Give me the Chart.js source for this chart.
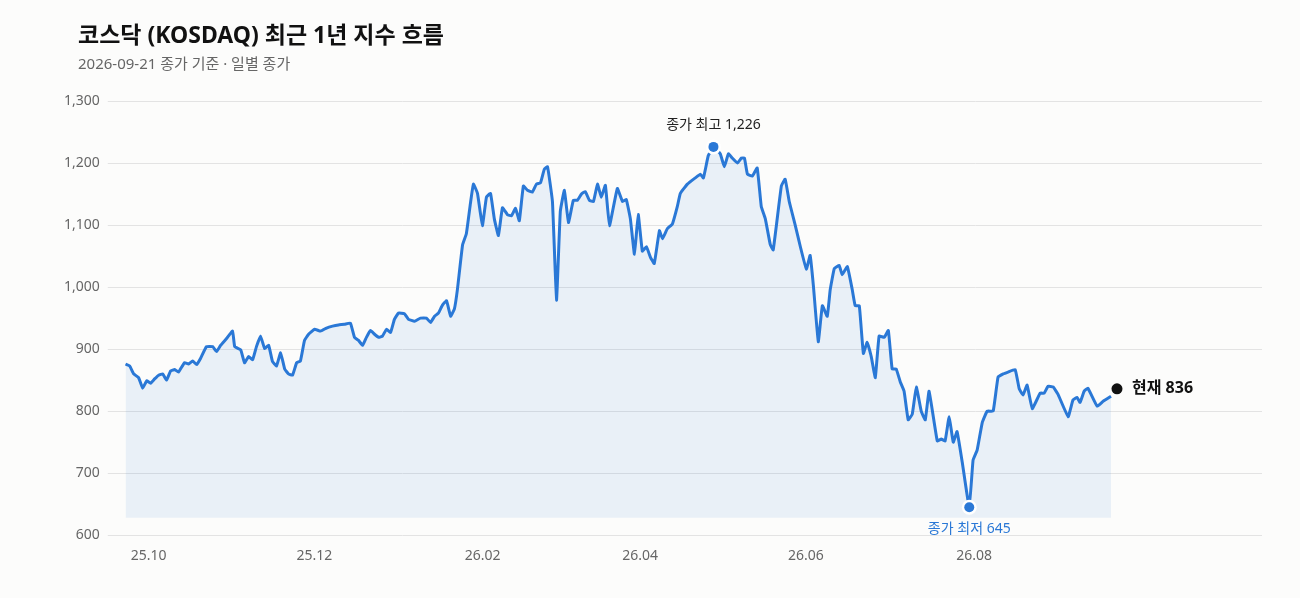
<!DOCTYPE html>
<html><head><meta charset="utf-8">
<script src="https://cdn.jsdelivr.net/npm/chart.js@4/dist/chart.umd.min.js"></script>
<style>
html,body{margin:0;padding:0;background:#fcfcfb;font-family:"Noto Sans","Noto Sans CJK KR",sans-serif;}
#wrap{position:relative;width:1300px;height:598px;}
#t{position:absolute;left:78px;top:16px;font-size:23px;font-weight:700;color:#111;}
#s{position:absolute;left:78px;top:52px;font-size:15px;color:#666;}
#c{position:absolute;left:0;top:0;}
</style></head><body>
<div id="wrap"><canvas id="c" width="1300" height="598"></canvas>
<div id="t">코스닥 (KOSDAQ) 최근 1년 지수 흐름</div>
<div id="s">2026-09-21 종가 기준 · 일별 종가</div></div>
<script>
// days since 2025-10-01
const days=[-8.5,-7,-5.5,-3.7,-2.2,-0.7,0.7,2.2,3.7,5.2,6.6,8.1,9.6,11,13.2,14.7,16.2,17.7,19.1,21.3,23.6,25,26.5,28.7,30.9,31.7,33.9,35.3,36.8,38.3,39.7,41.2,42.7,44.2,45.6,47.1,48.6,50.1,51.5,53,54.5,55.9,57.4,58.9,61.1,63.3,65.5,67.7,69.9,72.1,74.3,75.8,77.3,78.8,80.2,81.7,83.2,84.7,86.1,87.6,89.1,90.5,92,94.2,95.7,97.9,100.1,102.3,103.8,105.3,106.7,108.2,109.7,111.2,112.6,113.7,115.6,117,118.5,119.6,121.1,122.9,124.4,125.9,127.3,128.8,130.3,132.1,133.6,135.1,136.5,138,139.5,141.3,142.8,144.3,145.7,146.9,148.7,150.2,151.6,153.1,154.6,156.4,157.9,159.4,160.8,162.3,163.8,165.3,166.7,168.2,169.7,172.6,174.5,175.9,177.4,178.9,180.3,181.8,183.3,184.8,186.2,188.1,189.2,191,192.9,194.7,195.8,198.4,201.3,203.2,204.3,206.1,208,210.5,212,213.5,214.9,216.8,218.3,219.4,220.5,222.3,224.1,225.6,227.1,228.9,230,233,234.4,235.9,238.1,240,242.2,243.6,244.8,246.6,248.1,249.9,251,252.5,254.3,255.4,257.3,259.1,260.2,261.7,263.2,264.6,266.1,267.6,269,270.9,272.4,273.8,275.3,276.8,278.2,279.7,281.2,282.7,284.5,286,287.4,290.4,291.9,293.3,294.8,296.3,297.7,299.6,302.2,303.6,305.1,307,308.8,311,312.8,314.7,316.5,319.1,320.6,322,323.5,325.4,328.3,329.8,331.2,333.1,334.9,338.6,340.4,341.9,343,344.5,345.9,349.3,351.5,354.4];
const closes=[876,873,860,854,837,849,845,852,858,860,850,865,867,863,878,876,881,875,885,904,904,896,906,917,929,904,899,878,888,883,904,921,901,906,880,873,894,868,860,858,878,881,914,924,932,929,934,937,939,940,942,919,914,906,919,930,924,919,921,932,927,948,958,957,948,945,950,950,943,953,958,971,978,953,965,996,1068,1086,1135,1166,1151,1099,1145,1151,1110,1083,1128,1117,1115,1127,1107,1163,1156,1153,1166,1168,1190,1194,1138,979,1122,1156,1104,1140,1140,1150,1154,1140,1138,1166,1145,1164,1099,1159,1138,1141,1110,1053,1117,1058,1065,1048,1038,1091,1078,1094,1102,1130,1151,1166,1176,1182,1176,1212,1226,1215,1194,1215,1208,1200,1208,1208,1182,1179,1192,1130,1110,1069,1060,1163,1174,1138,1100,1065,1029,1051,1002,912,970,953,996,1030,1035,1020,1033,996,970,970,893,911,888,854,921,919,930,868,868,847,832,786,795,839,800,786,832,752,755,752,791,750,767,718,645,721,737,782,800,800,855,860,863,867,836,826,842,804,829,829,840,839,827,791,818,822,814,832,837,808,816,824];
const currentDay=356.6, currentValue=836;
const tickDays=[0,61,123,181,242,304];
const tickLabels=['25.10','25.12','26.02','26.04','26.06','26.08'];
const yTicks=[600,700,800,900,1000,1100,1200,1300];

const pts=days.map((d,i)=>({x:d,y:closes[i]}));
let maxI=0,minI=0;closes.forEach((v,i)=>{if(v>closes[maxI])maxI=i;if(v<closes[minI])minI=i;});
const fmt=v=>v.toLocaleString('en-US');
const annot={id:'annot',afterDatasetsDraw(ch){
  const c=ch.ctx,xs=ch.scales.x,ys=ch.scales.y;
  function dot(d,v,col,r,border){const px=xs.getPixelForValue(d),py=ys.getPixelForValue(v);
    c.beginPath();c.arc(px,py,r+(border?2.5:0),0,Math.PI*2);c.fillStyle=border?'#fff':col;c.fill();
    if(border){c.beginPath();c.arc(px,py,r,0,Math.PI*2);c.fillStyle=col;c.fill();}return [px,py];}
  c.save();
  let p=dot(days[maxI],closes[maxI],'#2a78d6',5,true);
  c.font='14px "Noto Sans","Noto Sans CJK KR"';c.fillStyle='#222';c.textAlign='center';c.textBaseline='alphabetic';
  c.fillText('종가 최고 '+fmt(closes[maxI]),p[0],p[1]-18);
  p=dot(days[minI],closes[minI],'#2a78d6',5,true);
  c.textBaseline='top';c.fillText('종가 최저 '+fmt(closes[minI]),p[0],p[1]+15);
  p=dot(currentDay,currentValue,'#111',5.5,false);
  c.font='bold 16px "Noto Sans","Noto Sans CJK KR"';c.textAlign='left';c.textBaseline='middle';c.fillStyle='#111';
  c.fillText('현재 '+currentValue,p[0]+15,p[1]);
  c.restore();}};
new Chart(document.getElementById('c'),{type:'line',
 data:{datasets:[{data:pts,borderColor:'#2a78d6',borderWidth:3,pointRadius:0,tension:0.1,
   fill:{value:628},backgroundColor:'rgba(42,120,214,0.09)'}]},
 options:{responsive:false,animation:false,
  layout:{padding:{left:56,right:38,top:101,bottom:30}},
  plugins:{legend:{display:false},tooltip:{enabled:false}},
  scales:{
   x:{type:'linear',min:-12.1,max:410,grid:{display:false},border:{display:false},
     afterBuildTicks(a){a.ticks=tickDays.map(v=>({value:v}));},
     ticks:{autoSkip:false,maxRotation:0,color:'#666',font:{size:14,family:'"Noto Sans"'},padding:4,
       callback:(v)=>{const i=tickDays.indexOf(v);return i>=0?tickLabels[i]:'';}}},
   y:{min:600,max:1300,grid:{color:'#e3e3e3'},border:{display:false},
     afterBuildTicks(a){a.ticks=yTicks.map(v=>({value:v}));},
     ticks:{color:'#666',font:{size:14,family:'"Noto Sans"'},padding:8,callback:v=>fmt(v)}}}},
 plugins:[annot]});
</script></body></html>
